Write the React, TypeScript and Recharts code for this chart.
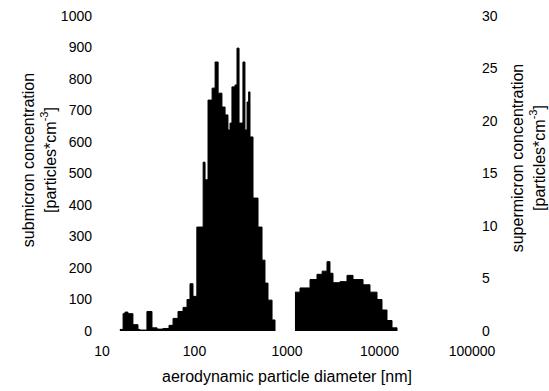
import { ComposedChart, Area, XAxis, YAxis } from 'recharts';

// bin lower edges [nm] and concentrations
const subDiameters = [15.6, 16.9, 17.7, 19.1, 21.6, 24.5, 25.7, 30.6, 34.7, 39.4, 45.6, 53, 58.6, 66.3, 75.2, 83, 89.4, 96.3, 106, 124, 130, 140, 155, 167, 180, 198, 214, 230, 242, 254, 274, 288, 303, 334, 351, 370, 385, 398, 429, 486, 537, 578, 623, 689, 742];
const subValues = [5, 55, 60, 55, 20, 5, 3, 62, 10, 6, 8, 18, 40, 62, 75, 100, 150, 110, 330, 536, 480, 733, 771, 854, 755, 711, 686, 638, 660, 775, 781, 898, 660, 854, 638, 727, 759, 616, 422, 330, 225, 152, 98, 35, 0];

const superDiameters = [1219, 1382, 1774, 2110, 2400, 2706, 2915, 3142, 3740, 4454, 5173, 6637, 7895, 9398, 10640, 12050, 13650, 15460];
const superValues = [3.7, 4.1, 4.9, 5.4, 5.7, 6.6, 5.5, 4.6, 4.7, 5.3, 4.9, 4.4, 3.7, 3.0, 2.0, 1.0, 0.3, 0];

const xTicks = [10, 100, 1000, 10000, 100000];
const leftTicks = [0, 100, 200, 300, 400, 500, 600, 700, 800, 900, 1000];
const rightTicks = [0, 5, 10, 15, 20, 25, 30];

const data = [
  ...subDiameters.map((d, i) => ({ d, sub: subValues[i] })),
  ...superDiameters.map((d, i) => ({ d, sup: superValues[i] })),
];

const font = 'Liberation Sans, Arial, sans-serif';
const tickStyle = { fontSize: 14, fill: '#000', fontFamily: font };

const AxisTitle = ({ cx, cy, first }: { cx: number; cy: number; first: string }) => (
  <g fontFamily={font} fontSize={16} fill="#000">
    <text x={cx} y={cy} transform={`rotate(-90 ${cx} ${cy})`} textAnchor="middle" dominantBaseline="central">
      {first}
    </text>
    <text x={cx + 22} y={cy} transform={`rotate(-90 ${cx + 22} ${cy})`} textAnchor="middle" dominantBaseline="central">
      [particles*cm<tspan dy={-6} fontSize={11}>-3</tspan><tspan dy={6}>]</tspan>
    </text>
  </g>
);

export default function App() {
  return (
    <div style={{ position: 'absolute', left: 0, top: 0, background: '#fff' }}>
      <ComposedChart width={549} height={391} data={data} margin={{ top: 16, right: 0, bottom: 0, left: 0 }}>
        <XAxis
          dataKey="d"
          type="number"
          scale="log"
          domain={[10, 100000]}
          ticks={xTicks}
          allowDataOverflow
          axisLine={false}
          tickLine={false}
          tickSize={0}
          tickMargin={15}
          height={60}
          tick={tickStyle}
          label={{
            content: () => (
              <text x={287} y={376} textAnchor="middle" dominantBaseline="central" fontFamily={font} fontSize={16} fill="#000">
                aerodynamic particle diameter [nm]
              </text>
            ),
          }}
        />
        <YAxis
          yAxisId="left"
          domain={[0, 1000]}
          ticks={leftTicks}
          axisLine={false}
          tickLine={false}
          tickSize={0}
          tickMargin={10}
          width={102}
          tick={tickStyle}
          label={{ content: () => <AxisTitle cx={28} cy={160} first="submicron concentration" /> }}
        />
        <YAxis
          yAxisId="right"
          orientation="right"
          domain={[0, 30]}
          ticks={rightTicks}
          axisLine={false}
          tickLine={false}
          tickSize={0}
          tickMargin={10}
          width={77}
          tick={tickStyle}
          label={{ content: () => <AxisTitle cx={517} cy={158} first="supermicron concentration" /> }}
        />
        <Area yAxisId="left" type="stepAfter" dataKey="sub" stroke="#000" strokeWidth={1} fill="#000" fillOpacity={1} isAnimationActive={false} dot={false} activeDot={false} />
        <Area yAxisId="right" type="stepAfter" dataKey="sup" stroke="#000" strokeWidth={1} fill="#000" fillOpacity={1} isAnimationActive={false} dot={false} activeDot={false} />
      </ComposedChart>
    </div>
  );
}
